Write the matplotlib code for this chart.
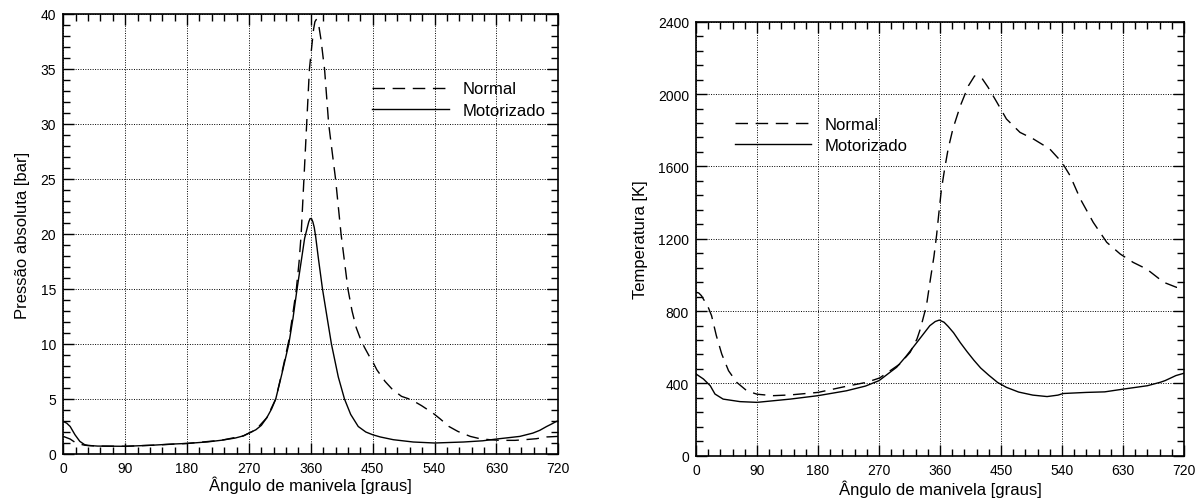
import matplotlib
matplotlib.use("Agg")
import matplotlib.pyplot as plt
from matplotlib.ticker import MultipleLocator

plt.rcParams['font.family'] = ['Liberation Sans', 'DejaVu Sans']

# pressao [bar] - motorizado
p_mot_ang = [0, 5, 10, 17, 24, 31, 36, 50, 90, 130, 157, 180, 210, 230, 250, 262, 270, 280,
             288, 296, 303, 309, 318, 328, 334, 340, 346, 351, 355, 357, 359, 361, 363, 365,
             367, 371, 377, 384, 390, 400, 409, 418, 429, 440, 450, 461, 480, 509, 540, 582,
             610, 630, 650, 664, 683, 693, 703, 711, 717, 720]
p_mot = [2.96, 2.8, 2.5, 1.75, 1.15, 0.85, 0.78, 0.72, 0.70, 0.8, 0.9, 0.96, 1.1, 1.25, 1.45,
         1.65, 1.9, 2.2, 2.6, 3.3, 4.1, 5.0, 7.3, 10.0, 12.3, 15.0, 17.5, 19.6, 20.6, 21.1,
         21.4, 21.4, 21.1, 20.6, 19.8, 17.8, 15.0, 12.3, 10.0, 7.0, 5.0, 3.6, 2.5, 2.0, 1.75,
         1.55, 1.3, 1.09, 1.0, 1.09, 1.2, 1.36, 1.5, 1.6, 1.9, 2.15, 2.5, 2.75, 2.96, 3.0]

# pressao [bar] - normal
p_norm_ang = [0, 10, 17, 24, 31, 36, 50, 90, 130, 180, 230, 262, 280, 296, 309, 318, 328,
              334, 339, 343, 346, 350, 354, 358, 362, 364, 366, 368, 370, 372, 375, 378, 380,
              386, 396, 404, 414, 420, 426, 432, 438, 445, 450, 456, 468, 479, 492, 506, 521,
              538, 548, 561, 574, 592, 606, 620, 635, 657, 671, 688, 703, 720]
p_norm = [1.6, 1.36, 1.06, 0.9, 0.8, 0.77, 0.72, 0.70, 0.8, 0.96, 1.25, 1.65, 2.2, 3.3, 5.0,
          7.4, 10.3, 12.8, 15.0, 17.5, 20.0, 25.0, 30.0, 35.0, 37.4, 38.6, 39.3, 39.5, 39.3,
          38.8, 37.6, 36.0, 35.0, 30.0, 25.0, 20.0, 15.0, 13.0, 11.5, 10.5, 9.7, 8.9, 8.4,
          7.66, 6.6, 5.85, 5.24, 4.94, 4.4, 3.7, 3.2, 2.5, 2.05, 1.6, 1.39, 1.3, 1.24, 1.24,
          1.3, 1.39, 1.55, 1.6]

# temperatura [K] - motorizado
t_mot_ang = [0, 11, 21, 28, 40, 65, 90, 139, 180, 222, 250, 270, 296, 310, 326, 345, 353,
             359, 366, 372, 380, 390, 400, 410, 420, 432, 445, 458, 476, 497, 518, 534, 542,
             576, 603, 630, 666, 685, 692, 708, 720]
t_mot = [452, 424, 387, 341, 313, 299, 295, 313, 332, 359, 385, 415, 489, 550, 627, 719, 742,
         750, 738, 715, 680, 625, 575, 528, 485, 445, 405, 378, 352, 335, 327, 335, 344, 350,
         353, 368, 387, 406, 415, 443, 456]

# temperatura [K] - normal
t_norm_ang = [0, 4, 8, 18, 23, 30, 38, 48, 60, 75, 90, 114, 139, 180, 222, 252, 271, 300,
              316, 326, 331, 340, 346, 351, 355, 358, 362, 367, 372, 379, 390, 402, 411, 421,
              431, 444, 458, 478, 498, 522, 540, 552, 567, 586, 606, 626, 645, 665, 690, 709,
              720]
t_norm = [904, 900, 885, 821, 774, 664, 562, 470, 406, 359, 340, 332, 336, 350, 384, 406, 430,
          505, 572, 645, 701, 830, 980, 1100, 1220, 1330, 1470, 1590, 1696, 1807, 1935, 2046,
          2100, 2092, 2037, 1954, 1862, 1788, 1751, 1696, 1622, 1548, 1420, 1291, 1180, 1115,
          1069, 1032, 959, 931, 935]

xticks = [0, 90, 180, 270, 360, 450, 540, 630, 720]
xlabel = 'Ângulo de manivela [graus]'

fig = plt.figure(figsize=(12.03, 5.02), dpi=100)
ax1 = fig.add_axes([63.3 / 1203, 47 / 502, 495 / 1203, 440 / 502])
ax2 = fig.add_axes([696 / 1203, 45.3 / 502, 488 / 1203, 434 / 502])

dash = (0, (9, 5.5))


def style(ax, ymax, ymajor, yminor):
    ax.set_xlim(0, 720)
    ax.set_ylim(0, ymax)
    ax.set_xticks(xticks)
    ax.xaxis.set_minor_locator(MultipleLocator(18))
    ax.yaxis.set_major_locator(MultipleLocator(ymajor))
    ax.yaxis.set_minor_locator(MultipleLocator(yminor))
    ax.tick_params(which='both', direction='in', top=True, right=True,
                   labelsize=10, colors='black', width=1.0)
    ax.tick_params(which='major', length=8, pad=5)
    ax.tick_params(which='minor', length=5)
    ax.grid(True, which='major', color='black', linestyle=(0, (1, 1.5)), linewidth=0.7)
    for s in ax.spines.values():
        s.set_linewidth(1.2)
    ax.set_xlabel(xlabel, fontsize=12)


ax1.plot(p_norm_ang, p_norm, color='black', linestyle=dash, linewidth=1.0, label='Normal')
ax1.plot(p_mot_ang, p_mot, color='black', linewidth=1.0, label='Motorizado')
style(ax1, 40, 5, 1)
ax1.set_ylabel('Pressão absoluta [bar]', fontsize=12)
ax1.yaxis.set_label_coords(-0.067, 0.5)
ax1.xaxis.set_label_coords(0.5, -0.05)
ax1.legend(loc='center left', bbox_to_anchor=(0.624, 0.805), frameon=False, fontsize=12,
           handlelength=4.6, handletextpad=0.8, borderpad=0, borderaxespad=0,
           labelspacing=0.4)

ax2.plot(t_norm_ang, t_norm, color='black', linestyle=dash, linewidth=1.0, label='Normal')
ax2.plot(t_mot_ang, t_mot, color='black', linewidth=1.0, label='Motorizado')
style(ax2, 2400, 400, 80)
ax2.set_ylabel('Temperatura [K]', fontsize=12)
ax2.yaxis.set_label_coords(-0.099, 0.5)
ax2.xaxis.set_label_coords(0.5, -0.055)
ax2.legend(loc='center left', bbox_to_anchor=(0.079, 0.739), frameon=False, fontsize=12,
           handlelength=4.6, handletextpad=0.8, borderpad=0, borderaxespad=0,
           labelspacing=0.4)

fig.savefig('out.png', dpi=100)
